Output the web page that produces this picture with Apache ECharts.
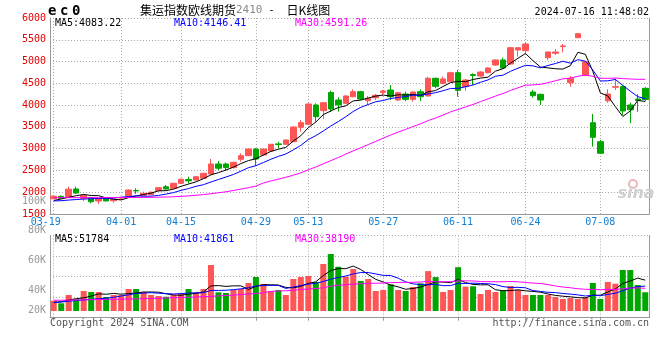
<!DOCTYPE html>
<html><head><meta charset="utf-8">
<script src="https://cdn.jsdelivr.net/npm/echarts@6/dist/echarts.min.js"></script>
<style>html,body{margin:0;padding:0;background:#fff}#c{width:660px;height:360px}</style>
</head><body><div id="c"></div>
<script>
const dates = ['03-19','03-20','03-21','03-22','03-25','03-26','03-27','03-28','03-29',
 '04-01','04-02','04-03','04-08','04-09','04-10','04-11','04-12','04-15','04-16','04-17','04-18','04-19','04-22','04-23','04-24','04-25','04-26','04-29','04-30',
 '05-06','05-07','05-08','05-09','05-10','05-13','05-14','05-15','05-16','05-17','05-20','05-21','05-22','05-23','05-24','05-27','05-28','05-29','05-30','05-31',
 '06-03','06-04','06-05','06-06','06-07','06-11','06-12','06-13','06-14','06-17','06-18','06-19','06-20','06-21','06-24','06-25','06-26','06-27','06-28',
 '07-01','07-02','07-03','07-04','07-05','07-08','07-09','07-10','07-11','07-12','07-15','07-16'];
const labelDates = ['03-19','04-01','04-15','04-29','05-13','05-27','06-11','06-24','07-08'];

const opens  = [1850,1905,1890,2075,1860,1874,1798,1860,1805,1835,1913,2040,1930,1943,2035,2127,2090,2205,2290,2280,
  2320,2418,2648,2648,2563,2756,2839,2992,2855,2946,3110,3100,3160,3490,3560,4003,3872,4290,4117,4042,
  4193,4308,4101,4170,4294,4347,4117,4255,4133,4308,4209,4616,4501,4538,4744,4423,4700,4668,4744,4921,
  5036,4944,5265,5250,4301,4248,5089,5190,5345,4515,5548,4691,3596,3160,4101,4410,4423,4003,4140,4386];
const closes = [1910,1860,2070,1980,1925,1782,1851,1800,1838,1845,2051,2030,1975,1998,2104,2074,2205,2297,2260,2356,
  2434,2648,2550,2563,2687,2839,2992,2763,2992,3100,3095,3199,3498,3596,4025,3734,4055,3911,4003,4209,
  4308,4140,4156,4225,4324,4193,4285,4133,4301,4193,4616,4431,4600,4744,4340,4577,4680,4760,4852,5036,
  4850,5318,5318,5403,4216,4117,5220,5220,5360,4616,5640,4997,3261,2894,4256,4423,3865,3893,4105,4130];
const lows   = [1840,1850,1880,1960,1800,1745,1730,1790,1760,1820,1905,1960,1897,1935,2025,2060,2080,2190,2205,2270,
  2310,2410,2510,2490,2550,2700,2830,2609,2840,2930,3008,3085,3150,3390,3550,3619,3681,3840,3850,4030,
  4180,4120,4003,4117,4232,4117,4094,4094,4078,4094,4200,4386,4478,4530,4193,4331,4462,4650,4730,4900,
  4840,4930,5112,5190,4170,4003,5036,5151,5212,4423,5540,4668,3045,2880,4055,4347,3773,3583,3849,4090];
const highs  = [1935,1925,2130,2130,1940,1880,1860,1865,1845,1860,2060,2090,2012,2020,2115,2166,2215,2310,2356,2370,
  2450,2763,2717,2680,2700,2894,3000,3010,3000,3110,3160,3210,3510,3658,4040,4042,4065,4331,4180,4230,
  4363,4330,4209,4255,4347,4462,4300,4308,4310,4363,4653,4630,4653,4767,4806,4600,4730,4775,4870,5050,
  5089,5330,5325,5442,4347,4260,5230,5288,5403,4668,5650,5010,3796,3199,4363,4616,4462,4055,4248,4409];
const volumes = [17300,12900,26900,19700,33600,31900,31900,23500,26900,26900,37000,37000,31900,26900,25200,24000,26900,29100,37000,30700,
  37000,77300,31400,30200,35300,37000,47000,57100,45400,33600,35300,26900,53800,57100,58800,48700,79000,95800,74400,57600,
  70600,50400,53800,33600,35300,44900,35300,33600,40300,46500,67000,57000,31900,35300,73600,41000,41490,28600,35300,31900,
  33600,42000,35300,26900,26900,26900,26900,23500,20200,21800,20200,23500,47000,20200,48790,45900,68900,68900,43700,31520];

// moving-average values before enough days exist
const ma5Head  = [1810,1845,1885,1920];
const ma10Head = [1800,1806,1820,1832,1843,1850,1856,1860,1866];
const ma30Head = [1874,1874,1875,1875,1876,1876,1877,1877,1878,1879,1879,1880,1881,1883,1886,1890,1896,1905,1916,1930,
  1946,1965,1988,2010,2040,2072,2105,2140,2212];
const vma5Head  = [14600,15600,18500,20700];
const vma10Head = [14000,15000,16400,17500,18600,19400,20500,21600,23000];
const vma30Head = [18000,18100,18400,18600,18700,19000,19300,19400,19600,19900,20100,20300,20700,21000,21300,21800,22300,22600,23100,23500,
  24100,24600,25400,26000,26700,27600,28600,29400,30500];

const priceLegend = ['MA5:4083.22','MA10:4146.41','MA30:4591.26'];
const volLegend = ['MA5:51784','MA10:41861','MA30:38190'];
const maColors = ['#000000','#0000ff','#ff00ff'];

const MONO = '"DejaVu Sans Mono","Liberation Mono",monospace';
const UP = '#ff5555', DOWN = '#00a600', GRIDC = '#aaaaaa', AXC = '#999999';

function movingAvg(values, n, head) {
  return values.map((v, i) => {
    if (i < n - 1) return head[i];
    let s = 0;
    for (let k = i - n + 1; k <= i; k++) s += values[k];
    return +(s / n).toFixed(2);
  });
}
const showIdx = (i, v) => labelDates.indexOf(v) >= 0;

const kData = dates.map((d, i) => [opens[i], closes[i], lows[i], highs[i]]);
const volData = volumes.map((v, i) => ({value: v, itemStyle: {color: closes[i] >= opens[i] ? UP : DOWN}}));

const dotted = {lineStyle: {color: GRIDC, type: [1, 2], width: 1}};
function lineSeries(data, color, xi, yi) {
  return {type: 'line', data, xAxisIndex: xi, yAxisIndex: yi, symbol: 'none', smooth: false, z: 5,
    lineStyle: {color, width: 1}, emphasis: {disabled: true}, silent: true};
}
const txt = (text, x, y, fill, font, align) => ({type: 'text', x, y, z: 100, silent: true,
  style: {text, fill, font: font || ('10px ' + MONO), align: align || 'left', verticalAlign: 'middle'}});

const chart = echarts.init(document.getElementById('c'));
chart.setOption({
  animation: false,
  backgroundColor: '#fff',
  grid: [
    {left: 50, right: 11, top: 18, height: 196},
    {left: 50, right: 11, top: 235.5, height: 82.2},
    {left: 50, right: 11, top: 201, height: 119.6}
  ],
  xAxis: [
    {type: 'category', gridIndex: 0, data: dates, boundaryGap: true,
      axisLine: {onZero: false, lineStyle: {color: AXC}}, axisTick: {show: false},
      axisLabel: {interval: showIdx, margin: 3, color: '#1480d4', fontFamily: MONO, fontSize: 10,
        formatter: (v, i) => i === 0 ? '{f|' + v + '}' : v,
        rich: {f: {padding: [0, 16, 0, 0], color: '#1480d4', fontFamily: MONO, fontSize: 10}}},
      splitLine: Object.assign({show: true, interval: showIdx, alignWithLabel: true}, dotted)},
    {type: 'category', gridIndex: 1, data: dates, boundaryGap: true,
      axisLine: {onZero: false, lineStyle: {color: AXC}},
      axisTick: {show: true, interval: showIdx, alignWithLabel: true, length: 3, lineStyle: {color: AXC}},
      axisLabel: {show: false},
      splitLine: Object.assign({show: true, interval: showIdx, alignWithLabel: true}, dotted)},
    {type: 'value', gridIndex: 2, show: false}
  ],
  yAxis: [
    {type: 'value', gridIndex: 0, min: 1500, max: 6000, interval: 500,
      axisLine: {show: true, lineStyle: {color: AXC}}, axisTick: {show: false},
      axisLabel: {color: '#e60000', fontFamily: MONO, fontSize: 10, margin: 4, padding: [0, 0, 4, 0],
        formatter: v => String(v)},
      splitLine: Object.assign({show: true}, dotted)},
    {type: 'value', gridIndex: 0, position: 'right', min: 0, max: 1,
      axisLine: {show: true, lineStyle: {color: AXC}}, axisTick: {show: false}, axisLabel: {show: false}, splitLine: {show: false}},
    {type: 'value', gridIndex: 1, min: 0, max: 4, interval: 1,
      axisLine: {show: true, lineStyle: {color: AXC}}, axisTick: {show: false}, axisLabel: {show: false},
      splitLine: Object.assign({show: true}, dotted)},
    {type: 'value', gridIndex: 1, position: 'right', min: 0, max: 1,
      axisLine: {show: true, lineStyle: {color: AXC}}, axisTick: {show: false}, axisLabel: {show: false}, splitLine: {show: false}},
    {type: 'value', gridIndex: 1, show: false, min: -11256, max: 126840},
    {type: 'value', gridIndex: 2, min: 20, max: 100, interval: 20,
      axisLine: {show: false}, axisTick: {show: false}, splitLine: {show: false},
      axisLabel: {color: '#999', fontFamily: MONO, fontSize: 10, margin: 4,
        formatter: v => v === 20 ? '{lo|20K}' : v + 'K',
        rich: {lo: {padding: [0, 0, 20, 0], color: '#999', fontFamily: MONO, fontSize: 10}}}}
  ],
  series: [
    {type: 'candlestick', data: kData, xAxisIndex: 0, yAxisIndex: 0, barWidth: 6, z: 3, silent: true,
      itemStyle: {color: UP, color0: DOWN, borderColor: UP, borderColor0: DOWN, borderWidth: 1}},
    lineSeries(movingAvg(closes, 5, ma5Head), maColors[0], 0, 0),
    lineSeries(movingAvg(closes, 10, ma10Head), maColors[1], 0, 0),
    lineSeries(movingAvg(closes, 30, ma30Head), maColors[2], 0, 0),
    {type: 'bar', data: volData, xAxisIndex: 1, yAxisIndex: 4, barWidth: 6, z: 3, silent: true},
    lineSeries(movingAvg(volumes, 5, vma5Head), maColors[0], 1, 4),
    lineSeries(movingAvg(volumes, 10, vma10Head), maColors[1], 1, 4),
    lineSeries(movingAvg(volumes, 30, vma30Head), maColors[2], 1, 4)
  ],
  graphic: [
    {type: 'text', x: 48, y: 11, z: 100, silent: true,
      style: {text: '{l|e}{l|c}{l|0}', verticalAlign: 'middle',
        rich: {l: {fontFamily: MONO, fontSize: 14, fontWeight: 'bold', fill: '#000', width: 12}}}},
    {type: 'text', x: 140, y: 10, z: 100, silent: true,
      style: {text: '{cn|集运指数欧线期货}{num|2410}{sp| -  }{cn|日K线图}', verticalAlign: 'middle',
        rich: {cn: {fontFamily: '"Noto Sans CJK SC"', fontSize: 12, fill: '#000'},
               num: {fontFamily: MONO, fontSize: 11, fill: '#888'},
               sp: {fontFamily: MONO, fontSize: 10, fill: '#000'}}}},
    txt('2024-07-16 11:48:02', 649, 12, '#000', null, 'right'),
    txt(priceLegend[0], 55, 23.5, maColors[0]),
    txt(priceLegend[1], 174, 23.5, maColors[1]),
    txt(priceLegend[2], 295, 23.5, maColors[2]),
    txt(volLegend[0], 55, 239, maColors[0]),
    txt(volLegend[1], 174, 239, maColors[1]),
    txt(volLegend[2], 295, 239, maColors[2]),
    txt('Copyright 2024 SINA.COM', 50, 323, '#555'),
    txt('http://finance.sina.com.cn', 649, 323, '#555', null, 'right'),
    {type: 'circle', shape: {cx: 633, cy: 184, r: 4}, z: 100, silent: true,
      style: {fill: 'none', stroke: '#f0b4b4', lineWidth: 2}},
    txt('sina', 636, 194, '#cfcfcf', 'italic bold 16px "DejaVu Sans"', 'center')
  ]
});
</script>
</body></html>
